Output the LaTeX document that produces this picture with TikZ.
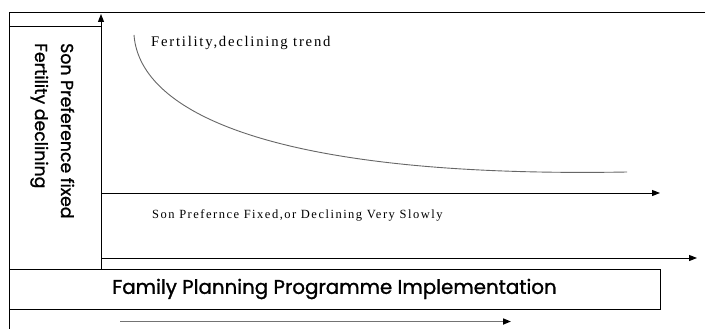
\documentclass[tikz,border=0pt]{standalone}
\usepackage{fontspec}
\setmainfont{Liberation Serif}
\newfontfamily\handfont[FakeBold=1.2]{Poppins}
\newfontfamily\plotfont[LetterSpace=12]{Liberation Serif}
\usetikzlibrary{arrows.meta}
\begin{document}
\begin{tikzpicture}[x=1pt,y=-1pt,
  rule/.style={line width=1pt,draw=black},
  axis/.style={line width=1pt,draw=black,-{Triangle[length=8pt,width=6pt]}},
  softaxis/.style={line width=1.6pt,draw=black!55,-{Triangle[length=8pt,width=6pt,color=black]}},
  trend/.style={line width=0.9pt,draw=black!60},
  sidelabel/.style={rotate=-90,anchor=base west,inner sep=0pt,
    font=\handfont\fontsize{17.3}{20}\selectfont},
  plotlabel/.style={anchor=base west,inner sep=0pt},
  banner/.style={draw=black,line width=1pt,minimum width=651pt,minimum height=40pt,
    inner sep=0pt,font=\handfont\fontsize{19.8}{23}\selectfont}]
\useasboundingbox[fill=white] (0,0) rectangle (706,329);

% outer frame: top edge and left edge
\coordinate (tl) at (9,13);
\coordinate (tr) at (705,13);
\coordinate (bl) at (9,329);
\draw[rule] (tr) -- (tl) -- (bl);

% bottom banner
\node[banner] (fpp) at (334.5,289) {Family Planning Programme Implementation};

% axes
\coordinate (o) at (101,269);
\coordinate (ytop) at (101,14);
\coordinate (sideTop) at (9,27);
\coordinate (sideTopR) at (101,27);
\draw[rule] (sideTop) -- (sideTopR);
\draw[axis] (o) -- (ytop);

\coordinate (m1) at (101,193);
\coordinate (m1e) at (660,193);
\draw[axis] (m1) -- (m1e);

\coordinate (m2) at (101,258);
\coordinate (m2e) at (697,258);
\draw[axis] (m2) -- (m2e);

\coordinate (b1) at (120,321.5);
\coordinate (b1e) at (511,321.5);
\draw[softaxis] (b1) -- (b1e);

% fertility trend curve
\coordinate (c0) at (134,35);
\coordinate (c1) at (627,172);
\draw[trend] (c0) .. controls (140,115) and (280,178) .. (c1);

% labels
\node[plotlabel,font=\plotfont\fontsize{14.7}{16}\selectfont] (fert) at (151,46) {Fertility,declining trend};
\node[plotlabel,font=\plotfont\fontsize{12.5}{15}\selectfont] (sonp) at (152,218.5) {Son Prefernce Fixed,or Declining Very Slowly};

\node[sidelabel] (sp) at (61,43) {Son Preference fixed};
\node[sidelabel] (fd) at (35,43) {Fertility declining};
\end{tikzpicture}
\end{document}
